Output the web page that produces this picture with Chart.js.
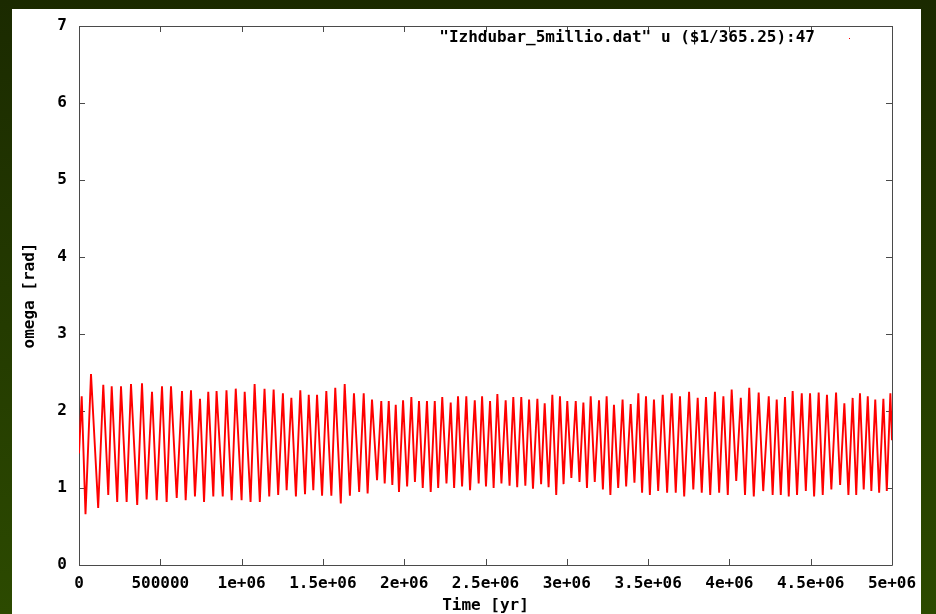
<!DOCTYPE html>
<html lang="en">
<head>
<meta charset="UTF-8" />
<title>omega vs Time</title>
<script src="https://cdn.jsdelivr.net/npm/chart.js"></script>
<style>
  html, body { margin: 0; padding: 0; }
  body { width: 936px; height: 614px; overflow: hidden; position: relative;
         background: linear-gradient(#1b2a00, #2c4a00); }
  .panel { position: absolute; left: 12px; top: 9px; width: 909px; height: 610px; background: #fff; }
  #omegaChart { position: absolute; left: 0; top: 0; }
</style>
</head>
<body>
<div class="panel"></div>
<canvas id="omegaChart" width="936" height="614"></canvas>

<script>
// values: local maxima and minima of omega [rad], time in years
const peakYr = [16600, 73800, 149400, 201100, 258300, 319800, 387500, 449000, 510500, 565800, 633500, 688800, 744200, 795000,
  846000, 907000, 964000, 1019000, 1080000, 1141000, 1197000, 1254000, 1306000, 1361000, 1413000, 1464000, 1521000, 1576000, 1634000,
  1691000, 1751000, 1802000, 1859000, 1905000, 1948000, 1993000, 2044000, 2091000, 2140000, 2188000, 2234000, 2286000, 2331000, 2382000, 2434000,
  2479000, 2528000,
  2573000, 2624000, 2671000, 2720000, 2768000, 2819000, 2864000, 2911000, 2958000, 3003000, 3055000, 3102000, 3147000, 3198000, 3245000, 3290000,
  3343000, 3393000, 3440000, 3487000, 3536000, 3590000, 3645000, 3696000, 3752000, 3805000, 3856000, 3911000, 3963000, 4014000, 4070000, 4122000, 4180000,
  4242000, 4291000, 4342000, 4389000, 4445000, 4496000, 4549000, 4600000, 4656000, 4707000, 4758000, 4803000, 4851000, 4897000, 4947000, 4990000];
const peakOmega = [2.19, 2.48, 2.34, 2.32, 2.32, 2.35, 2.36, 2.25, 2.32, 2.32, 2.26, 2.27, 2.16, 2.25,
  2.26, 2.27, 2.29, 2.25, 2.35, 2.29, 2.28, 2.23, 2.17, 2.27, 2.21, 2.21, 2.26, 2.30, 2.35,
  2.23, 2.23, 2.15, 2.13, 2.13, 2.08, 2.14, 2.18, 2.13, 2.13, 2.13, 2.18, 2.11, 2.19, 2.19, 2.14,
  2.19, 2.13,
  2.22, 2.14, 2.18, 2.18, 2.15, 2.16, 2.10, 2.21, 2.19, 2.13, 2.13, 2.11, 2.19, 2.14, 2.19, 2.08,
  2.15, 2.09, 2.23, 2.19, 2.15, 2.21, 2.23, 2.19, 2.25, 2.17, 2.18, 2.25, 2.19, 2.28, 2.17, 2.30, 2.24,
  2.19, 2.15, 2.18, 2.26, 2.23, 2.23, 2.24, 2.21, 2.24, 2.10, 2.17, 2.23, 2.19, 2.15, 2.16, 2.23];

const troughYr = [40000, 118000, 180000, 235000, 293000, 358000, 416000, 478000, 539000, 601000, 656000, 713000, 769000,
  826000, 884000, 939000, 1000000, 1055000, 1112000, 1170000, 1225000, 1277000, 1334000, 1390000, 1441000, 1495000, 1552000, 1610000, 1666000,
  1723000, 1775000, 1833000, 1880000, 1927000, 1968000, 2018000, 2066000, 2114000, 2163000, 2209000, 2260000, 2307000, 2356000, 2405000,
  2458000, 2503000, 2550000, 2598000, 2648000, 2695000, 2745000, 2792000, 2842000, 2888000, 2935000, 2980000, 3028000, 3078000, 3124000, 3172000, 3222000, 3268000, 3316000,
  3365000, 3416000, 3463000, 3511000, 3562000, 3617000, 3670000, 3722000, 3778000, 3830000, 3882000, 3937000, 3990000, 4042000, 4096000, 4150000,
  4208000, 4266000, 4316000, 4365000, 4416000, 4470000, 4521000, 4574000, 4627000, 4681000, 4732000, 4780000, 4826000, 4873000, 4921000, 4968000];
const troughOmega = [0.66, 0.74, 0.91, 0.82, 0.82, 0.78, 0.85, 0.84, 0.82, 0.87, 0.84, 0.89, 0.82,
  0.89, 0.89, 0.84, 0.84, 0.82, 0.82, 0.89, 0.91, 0.97, 0.89, 0.92, 0.97, 0.90, 0.90, 0.80, 0.90,
  0.95, 0.93, 1.10, 1.06, 1.04, 0.95, 1.02, 1.08, 1.00, 0.95, 1.00, 1.06, 1.00, 1.02, 0.97,
  1.06, 1.02, 1.00, 1.06, 1.03, 1.01, 1.03, 0.99, 1.05, 1.01, 0.91, 1.05, 1.13, 1.08, 1.00, 1.08, 0.98, 0.91, 1.00,
  1.02, 1.07, 0.94, 0.91, 0.96, 0.94, 0.94, 0.89, 0.98, 0.94, 0.91, 0.94, 0.91, 1.09, 0.91, 0.89,
  0.96, 0.91, 0.91, 0.89, 0.91, 0.96, 0.89, 0.91, 0.98, 1.04, 0.91, 0.91, 0.98, 0.96, 0.94, 0.96];

// first and last samples
const edgeYr = [0, 5000000];
const edgeOmega = [1.45, 1.62];

const xTickLabels = ['0', '500000', '1e+06', '1.5e+06', '2e+06', '2.5e+06', '3e+06', '3.5e+06', '4e+06', '4.5e+06', '5e+06'];
const yTickLabels = ['0', '1', '2', '3', '4', '5', '6', '7'];
const seriesLabel = '"Izhdubar_5millio.dat" u ($1/365.25):47';

const points = [];
peakYr.forEach((t, i) => points.push({ x: t, y: peakOmega[i] }));
troughYr.forEach((t, i) => points.push({ x: t, y: troughOmega[i] }));
edgeYr.forEach((t, i) => points.push({ x: t, y: edgeOmega[i] }));
points.sort((a, b) => a.x - b.x);

const FONT = { family: "'DejaVu Sans Mono', monospace", size: 16, weight: 'bold' };
const FRAME = '#4a4a4a';

// gnuplot style frame with inward ticks on all four sides, plus the key
const gnuFrame = {
  id: 'gnuFrame',
  beforeDatasetsDraw(chart) {
    const { ctx, chartArea: a, scales } = chart;
    ctx.save();
    ctx.strokeStyle = FRAME;
    ctx.lineWidth = 1;
    ctx.beginPath();
    ctx.rect(Math.round(a.left) + 0.5, Math.round(a.top) + 0.5, Math.round(a.right - a.left), Math.round(a.bottom - a.top));
    scales.x.ticks.forEach(tk => {
      const px = Math.round(scales.x.getPixelForValue(tk.value)) + 0.5;
      ctx.moveTo(px, a.bottom); ctx.lineTo(px, a.bottom - 6);
      ctx.moveTo(px, a.top); ctx.lineTo(px, a.top + 6);
    });
    scales.y.ticks.forEach(tk => {
      const py = Math.round(scales.y.getPixelForValue(tk.value)) + 0.5;
      ctx.moveTo(a.left, py); ctx.lineTo(a.left + 6, py);
      ctx.moveTo(a.right, py); ctx.lineTo(a.right - 6, py);
    });
    ctx.stroke();
    ctx.restore();
  },
  afterDraw(chart) {
    const { ctx, chartArea: a } = chart;
    ctx.save();
    ctx.font = `${FONT.weight} ${FONT.size}px ${FONT.family}`;
    ctx.fillStyle = '#000';
    ctx.textAlign = 'right';
    ctx.textBaseline = 'middle';
    ctx.fillText(chart.data.datasets[0].label, a.right - 77, a.top + 12);
    ctx.fillStyle = '#ff0000';
    ctx.fillRect(a.right - 43, a.top + 12, 1, 1);
    ctx.restore();
  }
};

new Chart(document.getElementById('omegaChart'), {
  type: 'line',
  data: {
    datasets: [{
      label: seriesLabel,
      data: points,
      borderColor: '#ff0000',
      borderWidth: 1.9,
      pointRadius: 0,
      tension: 0,
      fill: false
    }]
  },
  options: {
    responsive: false,
    animation: false,
    layout: { padding: { top: 26, right: 44, left: 0, bottom: 0 } },
    plugins: { legend: { display: false }, tooltip: { enabled: false } },
    scales: {
      x: {
        type: 'linear',
        min: 0,
        max: 5000000,
        grid: { display: false, drawTicks: false },
        border: { display: false },
        ticks: {
          stepSize: 500000, autoSkip: false, maxRotation: 0, padding: 9, color: '#000', font: FONT,
          callback: v => xTickLabels[Math.round(v / 500000)]
        },
        title: { display: true, text: 'Time [yr]', color: '#000', font: { ...FONT, lineHeight: 1 }, padding: { top: 0, bottom: 0 } },
        afterFit: s => { s.height = 49; }
      },
      y: {
        min: 0,
        max: 7,
        grid: { display: false, drawTicks: false },
        border: { display: false },
        ticks: {
          stepSize: 1, padding: 12, color: '#000', font: FONT,
          callback: v => yTickLabels[v]
        },
        title: { display: true, text: 'omega [rad]', color: '#000', font: { ...FONT, lineHeight: 1 }, padding: { top: 22, bottom: 0 } },
        afterFit: s => { s.width = 79; }
      }
    }
  },
  plugins: [gnuFrame]
});
</script>
</body>
</html>
